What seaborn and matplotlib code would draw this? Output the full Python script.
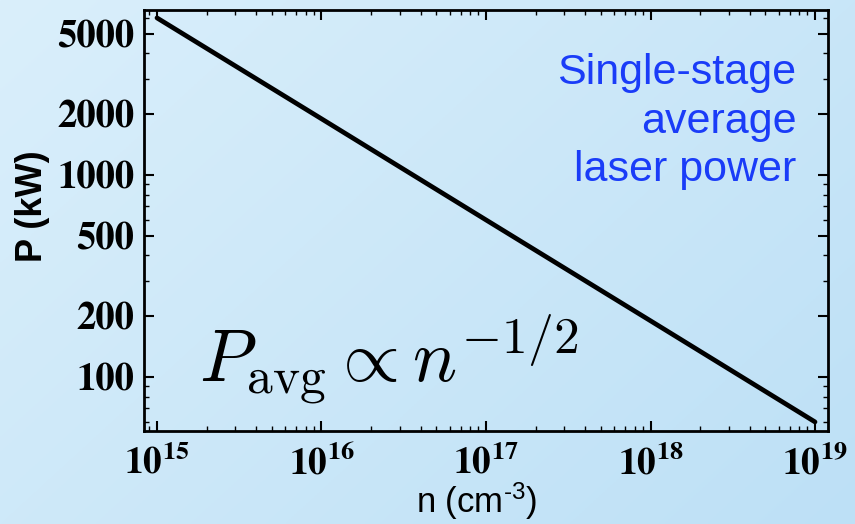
import numpy as np
import pandas as pd
import matplotlib
matplotlib.use("Agg")
import matplotlib.pyplot as plt
from matplotlib.ticker import LogLocator, FixedLocator, FuncFormatter, NullFormatter
import seaborn as sns

# Plasma density (cm^-3) and single-stage average laser power (kW)
density = [1e15, 1e16, 1e17, 1e18, 1e19]
power_kw = [6000, 1900, 600, 190, 60]

y_ticks = [100, 200, 500, 1000, 2000, 5000]
x_ticks = [1e15, 1e16, 1e17, 1e18, 1e19]

df = pd.DataFrame({"n": density, "P": power_kw})

sns.set_theme(style="ticks")
plt.rcParams["mathtext.fontset"] = "custom"
plt.rcParams["mathtext.rm"] = "Liberation Sans"
plt.rcParams["mathtext.it"] = "Liberation Sans:italic"
plt.rcParams["mathtext.bf"] = "Liberation Sans:bold"

fig = plt.figure(figsize=(8.55, 5.24), dpi=100)

# soft diagonal blue gradient behind everything
bg = fig.add_axes([0, 0, 1, 1], zorder=-10)
gx, gy = np.meshgrid(np.linspace(0, 1, 300), np.linspace(0, 1, 200))
t = (gx * 0.6 + gy * 0.4)
c0 = np.array([0xda, 0xef, 0xfb]) / 255
c1 = np.array([0xbd, 0xe0, 0xf6]) / 255
img = c0[None, None, :] * (1 - t[..., None]) + c1[None, None, :] * t[..., None]
bg.imshow(img, aspect="auto", extent=[0, 1, 0, 1], origin="upper")
bg.axis("off")

ax = fig.add_axes([144 / 855, 1 - 431 / 524, (828 - 144) / 855, (431 - 10) / 524])
ax.set_facecolor("none")

sns.lineplot(data=df, x="n", y="P", ax=ax, color="black", linewidth=3.4)

ax.set_xscale("log")
ax.set_yscale("log")
ax.set_xlim(10 ** 14.921, 10 ** 19.079)
ax.set_ylim(54.1, 6566)

ax.xaxis.set_major_locator(FixedLocator(x_ticks))
ax.xaxis.set_minor_locator(LogLocator(base=10, subs=np.arange(2, 10)))
ax.yaxis.set_major_locator(FixedLocator(y_ticks))
ax.yaxis.set_minor_locator(LogLocator(base=10, subs=[3, 4, 6, 7, 8, 9]))
ax.xaxis.set_minor_formatter(NullFormatter())
ax.yaxis.set_minor_formatter(NullFormatter())

ax.xaxis.set_major_formatter(FuncFormatter(
    lambda v, p: r"$\mathbf{10^{%d}}$" % int(round(np.log10(v)))))
ax.yaxis.set_major_formatter(FuncFormatter(lambda v, p: "%d" % v))

ax.tick_params(which="both", direction="in", top=True, right=True,
               colors="black", width=1.5)
ax.tick_params(which="major", length=7)
ax.tick_params(which="minor", length=3.5, width=1.0)
ax.tick_params(axis="y", which="major", pad=7, labelsize=28)
ax.tick_params(axis="x", which="major", pad=10, labelsize=27)

for spine in ax.spines.values():
    spine.set_visible(True)
    spine.set_linewidth(2.0)
    spine.set_color("black")

fig.canvas.draw()
for lab in ax.get_yticklabels():
    lab.set_fontfamily("STIXGeneral")
    lab.set_fontweight("bold")
for lab in ax.get_xticklabels():
    lab.set_math_fontfamily("stix")

ax.set_xlabel(r"n (cm$^{\text{-3}}$)", fontsize=25, fontfamily="Liberation Sans",
              labelpad=0, color="black")
ax.set_ylabel("P (kW)", fontsize=26, fontfamily="Liberation Sans", fontweight="bold",
              color="black")
ax.yaxis.set_label_coords(-0.138, 0.534)
ax.xaxis.set_label_coords(0.487, -0.118)

ax.text(0.954, 0.898, "Single-stage\naverage\nlaser power", transform=ax.transAxes,
        ha="right", va="top", fontsize=31, fontfamily="Liberation Sans",
        color="#1a3cf8", linespacing=1.28)

ax.text(0.08, 0.116, r"$P_{\rm avg} \propto n^{-1/2}$", transform=ax.transAxes,
        ha="left", va="baseline", fontsize=53, math_fontfamily="cm", color="black")

fig.savefig("out.png", dpi=100)
